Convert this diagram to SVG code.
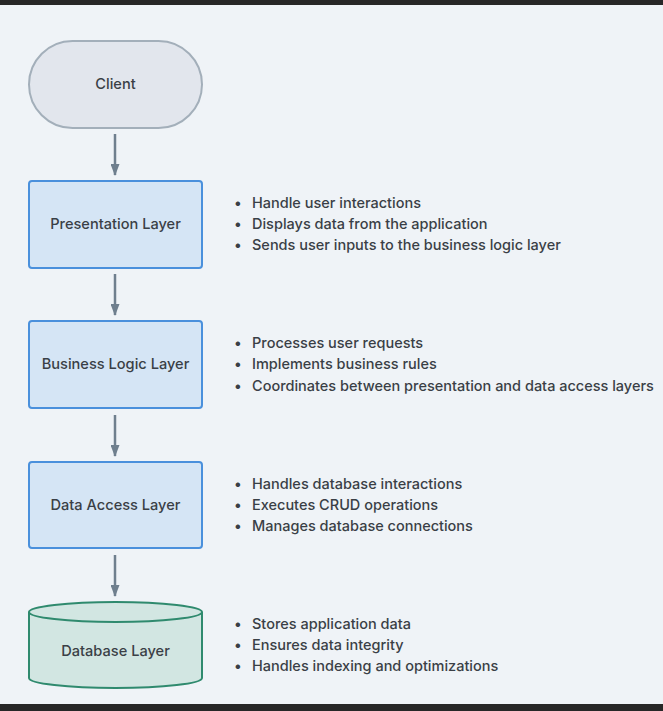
<svg xmlns="http://www.w3.org/2000/svg" width="663" height="711" viewBox="0 0 663 711">
<defs>
<style>
.bg{fill:#eff3f7}
.bar{fill:#272727}
.box{fill:#d5e5f5;stroke:#4a90dc;stroke-width:2}
.client{fill:#e2e6ed;stroke:#a3afba;stroke-width:2}
.db{fill:#d2e6e2;stroke:#2f8a6e;stroke-width:2}
.lbl{font-family:Inter,"Liberation Sans",sans-serif;font-size:14.6px;font-weight:500;fill:#3a3f46;text-anchor:middle}
.note{font-family:Inter,"Liberation Sans",sans-serif;font-size:14.5px;font-weight:500;fill:#3a3f46}
.conn{stroke:#6f7f8e;stroke-width:2.5;fill:none}
</style>
<marker id="ah" viewBox="0 0 12 9" refX="11" refY="4.5" markerWidth="12" markerHeight="9" markerUnits="userSpaceOnUse" orient="auto">
<path d="M0,0 L12,4.5 L0,9 z" fill="#6f7f8e"/>
</marker>
</defs>
<rect class="bg" x="0" y="0" width="663" height="711"/>
<rect class="bar" x="0" y="0" width="663" height="5"/>
<rect class="bar" x="0" y="704" width="663" height="7"/>

<g id="connectors">
<line class="conn" x1="115" y1="134" x2="115" y2="175" marker-end="url(#ah)"/>
<line class="conn" x1="115" y1="274" x2="115" y2="315" marker-end="url(#ah)"/>
<line class="conn" x1="115" y1="415" x2="115" y2="456" marker-end="url(#ah)"/>
<line class="conn" x1="115" y1="555" x2="115" y2="596" marker-end="url(#ah)"/>
</g>

<g id="client">
<rect class="client" x="29" y="41" width="173" height="87" rx="43.5"/>
<text class="lbl" x="115.5" y="89">Client</text>
</g>

<g id="presentation">
<rect class="box" x="29" y="181" width="173" height="87" rx="3"/>
<text class="lbl" x="115.5" y="229">Presentation Layer</text>
</g>
<g id="presentation-notes">
<text class="note" x="234" y="208">•</text><text class="note" x="252" y="208">Handle user interactions</text>
<text class="note" x="234" y="229">•</text><text class="note" x="252" y="229">Displays data from the application</text>
<text class="note" x="234" y="250">•</text><text class="note" x="252" y="250">Sends user inputs to the business logic layer</text>
</g>

<g id="business">
<rect class="box" x="29" y="321" width="173" height="87" rx="3"/>
<text class="lbl" x="115.5" y="369">Business Logic Layer</text>
</g>
<g id="business-notes">
<text class="note" x="234" y="348">•</text><text class="note" x="252" y="348">Processes user requests</text>
<text class="note" x="234" y="369">•</text><text class="note" x="252" y="369">Implements business rules</text>
<text class="note" x="234" y="391">•</text><text class="note" x="252" y="391">Coordinates between presentation and data access layers</text>
</g>

<g id="dataaccess">
<rect class="box" x="29" y="462" width="173" height="86" rx="3"/>
<text class="lbl" x="115.5" y="510">Data Access Layer</text>
</g>
<g id="dataaccess-notes">
<text class="note" x="234" y="489">•</text><text class="note" x="252" y="489">Handles database interactions</text>
<text class="note" x="234" y="510">•</text><text class="note" x="252" y="510">Executes CRUD operations</text>
<text class="note" x="234" y="531">•</text><text class="note" x="252" y="531">Manages database connections</text>
</g>

<g id="database">
<path class="db" d="M29,612 L29,678 A86.5,10 0 0 0 202,678 L202,612 A86.5,10 0 0 0 29,612 Z"/>
<path class="db" d="M29,612 A86.5,10 0 0 0 202,612" fill="none"/>
<text class="lbl" x="115.5" y="656">Database Layer</text>
</g>
<g id="database-notes">
<text class="note" x="234" y="629">•</text><text class="note" x="252" y="629">Stores application data</text>
<text class="note" x="234" y="650">•</text><text class="note" x="252" y="650">Ensures data integrity</text>
<text class="note" x="234" y="671">•</text><text class="note" x="252" y="671">Handles indexing and optimizations</text>
</g>
</svg>
